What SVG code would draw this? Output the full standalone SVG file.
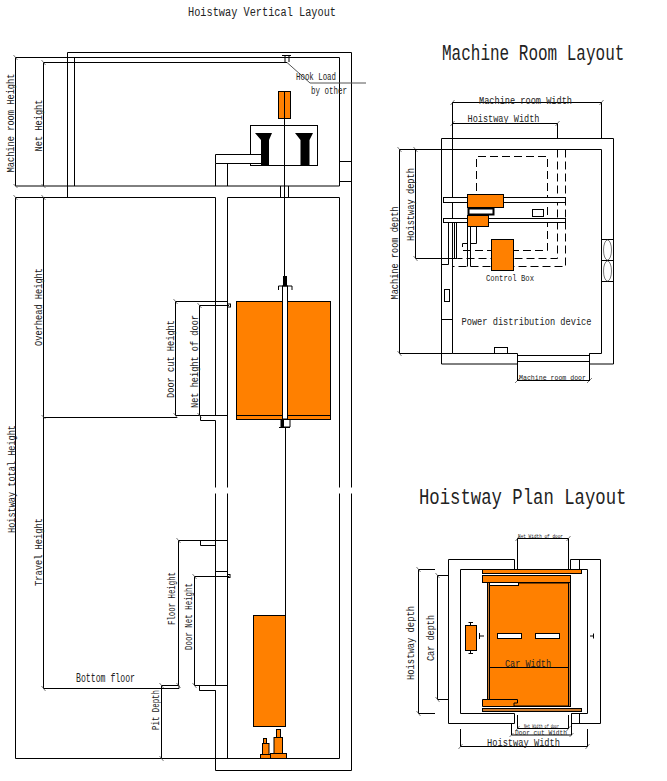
<svg xmlns="http://www.w3.org/2000/svg" width="667" height="781" viewBox="0 0 667 781">
<style>
text{font-family:"Liberation Mono","DejaVu Sans Mono",monospace;fill:#222;font-size:11px}
.l{fill:none;stroke:#000;stroke-width:1}
.d{fill:none;stroke:#000;stroke-width:1;stroke-dasharray:8 4}
.o{fill:#ff8000;stroke:#000;stroke-width:1}
.w{fill:#fff;stroke:#000;stroke-width:1}
.k{fill:#000}
.t{fill:none;stroke:#444;stroke-width:.7}
</style>
<rect width="667" height="781" fill="#fff"/>
<g id="vertical-layout">
<g id="shaft-walls">
<path class="l" d="M67.5 197.5V52.5H351.5V487.5M351.5 493.5V770.5H215.5V690.5H199.5V685.5M74.5 57.5V186M15.5 57.5H339.5V186H15.5M339.5 161.5H351.5M339.5 181.500H351.5M15.5 197.5H215.5V415.5M227.5 197.5H339.5V487.5M339.5 493.5V758.5H15.5M227.5 197.5V487.5M227.5 493.5V758.5M215.5 420.5V487.5M215.5 493.5V685.5M215.5 571.5H227.5M280.5 186V197.5M288.5 186V197.5"/>
<path class="l" d="M200.5 415.5V420.5H215.5M175.5 415.5H227.5M43.5 417.5H177M200.5 540.5V545.5H215.5M178.5 540.5H227.5M194.5 685.5H227.5M161.5 685.5H179M43.5 688.5H179V685.5M199.5 690.5H215.5"/>
</g>
<g id="machine">
<rect class="o" x="278.5" y="91.5" width="12" height="27"/>
<rect class="w" x="250.5" y="125.5" width="67" height="40"/>
<path class="k" d="M255 133H272L269 140V165H261V140Z"/>
<path class="k" d="M295 133H313L309.500 140V165H300.500V140Z"/>
<path class="w" d="M261 154.500H215.500V163.500H261"/>
<path class="l" d="M215.500 163.500V186M227.500 163.500V186"/>
<path class="l" d="M284.500 91.500V286M285.500 427V615"/>
<path class="l" d="M282 55.500H291M285 55.500V62.500H287M289 55.500V62"/>
<path class="l" d="M43.500 62.500H287"/>
<path d="M287 62.500L310 83H366" fill="none" stroke="#555" stroke-width="1"/>
</g>
<g id="car">
<rect class="o" x="236.500" y="301.500" width="94" height="118"/>
<path class="l" d="M236.500 415.500H330.500"/>
<rect class="w" x="282.500" y="286" width="5" height="133"/>
<rect class="k" x="283" y="276" width="4" height="10"/>
<path class="l" d="M278.500 290V286H292V290"/>
<path class="w" d="M281 419.500H290V427H281Z"/>
<rect class="k" x="281" y="419.500" width="3" height="7.500"/>
<path class="l" d="M279 427.500H290"/>
<rect class="w" x="227.500" y="304" width="3" height="3"/>
<rect class="w" x="227.500" y="574.500" width="2.500" height="3"/>
</g>
<g id="counterweight">
<rect class="o" x="253.500" y="615.500" width="32" height="111"/>
<rect class="o" x="263.500" y="738.500" width="3" height="5"/>
<rect class="o" x="262.500" y="743.500" width="6.500" height="11"/>
<rect class="o" x="260.500" y="754.500" width="10" height="4"/>
<rect class="o" x="276.500" y="729.500" width="4" height="8"/>
<rect class="o" x="274" y="737.500" width="8.500" height="16"/>
<rect class="o" x="270.500" y="753.500" width="16" height="5"/>
</g>
</g>
<g id="connectors">
<path class="l" d="M15.500 57.500V186M43.500 62.500V186M15.500 197.500V758.500M43.500 197.500V688.500M175.500 301.500V415.500M175.500 301.500H227.500M199.500 305.500V415.500M199.500 305.500H229M178.500 540.500V685.500M194.500 576.500V685.500M194.500 576.500H229M161.500 685.500V758.500"/>
<path class="t" d="M13.500 55L17.500 60M13.500 184L17.500 188M13.500 195L17.500 200M41.500 60L45.500 65M41.500 184L45.500 188M41.500 195L45.500 200M41.500 415L45.500 419M41.500 686L45.500 691M173.500 299L177.500 304M173.500 413L177.500 418M197.500 303L201.500 308M197.500 413L201.500 418M176.500 538L180.500 543M176.500 683L180.500 688M192.500 574L196.500 579M192.500 683L196.500 688M159.500 683L163.500 688M159.500 756L163.500 761"/>
<path class="l" d="M399.500 149.500V353.500H452.500M415.500 149.500V258.500H457.500M452.500 102.500H601.500M452.500 123.500H557.500M517.500 380.500H589.500M418.500 569.500V713.500M418.500 569.500H435M418.500 713.500H435M437.500 575.500V699.500M437.500 575.500H448.500M437.500 699.500H448.500M517.500 538.500H568.500M517.500 728.500H568.500M511.500 735H571.500M460.500 746.500H587.500M489 667.500H569"/>
<path class="t" d="M397.500 147L401.500 152M413.500 147L417.500 152M413.500 256L417.500 261M397.500 351L401.500 356M450.500 105L454.500 100M599.500 105L603.500 100M450.500 126L454.500 121M555.500 126L559.500 121M515 383L520 378M587 383L592 378M416.500 567L420.500 572M416.500 711L420.500 716M435.500 573L439.500 578M435.500 697L439.500 702M515.500 541L519.500 536M566.500 541L570.500 536M515.500 731L519.500 726M566.500 731L570.500 726M509.500 737L513.500 733M569.500 737L573.500 733M458.500 749L462.500 744M585.500 749L589.500 744"/>
</g>
<g id="machine-room-plan">
<path class="l" d="M441.500 364V138.500H613.500V364H589.500V353.500H601.500V149.500H399.500M452.500 149.500V353.500M452.500 353.500H517.500V381M441.500 364H517.500M517.500 355.500H589.500M517.500 361.500H589.500M589.500 353.500V381M452.500 102.500V149.500M601.500 102.500V138.500M557.500 123.500V138.500M441.500 319.500H452.500M441.500 264.500H448.500V222.500M601.500 239.500H613.500M601.500 260.500H613.500M601.500 281.500H613.500"/>
<ellipse class="t" cx="607.500" cy="250" rx="4" ry="10"/>
<ellipse class="t" cx="607.500" cy="271" rx="4" ry="10"/>
<rect class="w" x="444.500" y="289.500" width="5" height="12"/>
<rect class="w" x="494.500" y="347.500" width="13" height="6"/>
<path class="d" d="M476.500 239V156.500H547.500V250.500H462.500V243.500H476.500"/>
<path class="d" d="M557.500 149.500V258.500H457.500"/>
<path class="d" d="M565.500 149.500V266.500H452.500"/>
<rect class="w" x="443.500" y="197.500" width="122" height="5"/>
<rect class="w" x="443.500" y="218.500" width="122" height="4"/>
<rect class="o" x="467.500" y="194.500" width="36" height="13"/>
<rect x="468.500" y="208.500" width="25" height="6" fill="#fff" stroke="#000" stroke-width="2"/>
<rect class="o" x="467.500" y="215.500" width="21" height="11"/>
<rect class="w" x="532.500" y="209.500" width="11" height="7"/>
<path class="l" d="M454.500 222.500V258.500M456.500 222.500V258.500M467.500 226.500V266.500M470.500 226.500V266.500M476.500 226.500V243.500"/>
<rect class="o" x="491.500" y="239.500" width="22" height="31"/>
</g>
<g id="hoistway-plan">
<path class="l" d="M448.500 723.500V559.500H514.500V569.500H460.500V713.500H514.500V723.500H448.500M570.500 569.500V559.500H600.500V723.500H571.500V713.500H587.500V569.500H570.500M579.500 559.500V569.500M579.500 713.500V723.500M517.500 538.500V569.500M568.500 538.500V569.500M517.500 715V728.500M568.500 715V728.500M511.500 724V735M571.500 713.500V735M460.500 729V746.500M587.500 729V746.500"/>
<rect class="o" x="482.500" y="569.500" width="99" height="4"/>
<rect x="487.500" y="582" width="83" height="124.500" fill="#c87a30" stroke="#000"/>
<rect x="489.500" y="583" width="79" height="123" fill="#ff8000" stroke="#000"/>
<rect class="o" x="482.500" y="575.500" width="88" height="7"/>
<rect class="w" x="489.500" y="582.500" width="29" height="3"/>
<path class="l" d="M489.500 667.500H569"/>
<path class="o" d="M482.500 699.500H517.500V703H514V706.500H482.500Z"/>
<rect x="482.500" y="708.500" width="99" height="3" fill="#c87a30" stroke="#000"/>
<rect class="w" x="497.500" y="633.500" width="24" height="5"/>
<rect class="w" x="535.500" y="633.500" width="24" height="5"/>
<rect class="o" x="465.500" y="625.500" width="11" height="25"/>
<path class="l" d="M468.500 622.500H473M470.500 622.500V625.500M468.500 653.500H473M470.500 650.500V653.500M479.500 633V639M479.500 636H484M593.500 633.500V638.500M590 636H593.500"/>
</g>
<g id="labels">
<text x="188" y="16" textLength="148" lengthAdjust="spacingAndGlyphs" style="font-size:12px">Hoistway Vertical Layout</text>
<text transform="translate(442 60) scale(1 1.35)" style="font-size:16px">Machine Room Layout</text>
<text transform="translate(419 504) scale(1 1.3)" style="font-size:17.300px">Hoistway Plan Layout</text>
<text x="296" y="80" textLength="40" lengthAdjust="spacingAndGlyphs">Hook Load</text>
<text x="311" y="94" textLength="36" lengthAdjust="spacingAndGlyphs">by other</text>
<text x="76" y="682" textLength="59" lengthAdjust="spacingAndGlyphs" style="font-size:12px">Bottom floor</text>
<text transform="translate(14 172.500) rotate(-90)" textLength="99" lengthAdjust="spacingAndGlyphs">Machine room Height</text>
<text transform="translate(42 151.500) rotate(-90)" textLength="52" lengthAdjust="spacingAndGlyphs">Net Height</text>
<text transform="translate(41.500 346) rotate(-90)" textLength="78" lengthAdjust="spacingAndGlyphs">Overhead Height</text>
<text transform="translate(174 398) rotate(-90)" textLength="78" lengthAdjust="spacingAndGlyphs">Door cut Height</text>
<text transform="translate(198 408) rotate(-90)" textLength="93" lengthAdjust="spacingAndGlyphs">Net height of door</text>
<text transform="translate(15 533) rotate(-90)" textLength="108" lengthAdjust="spacingAndGlyphs">Hoistway total Height</text>
<text transform="translate(42 586) rotate(-90)" textLength="68" lengthAdjust="spacingAndGlyphs">Travel Height</text>
<text transform="translate(175 625) rotate(-90)" textLength="53" lengthAdjust="spacingAndGlyphs">Floor Height</text>
<text transform="translate(192 650) rotate(-90)" textLength="67" lengthAdjust="spacingAndGlyphs">Door Net Height</text>
<text transform="translate(158.500 730) rotate(-90)" textLength="40" lengthAdjust="spacingAndGlyphs">Pit Depth</text>
<text x="479" y="104" textLength="93" lengthAdjust="spacingAndGlyphs">Machine room Width</text>
<text x="467.500" y="122" textLength="72" lengthAdjust="spacingAndGlyphs">Hoistway Width</text>
<text transform="translate(398 299.500) rotate(-90)" textLength="93" lengthAdjust="spacingAndGlyphs">Machine room depth</text>
<text transform="translate(414 241) rotate(-90)" textLength="73" lengthAdjust="spacingAndGlyphs">Hoistway depth</text>
<text x="486" y="280.500" textLength="48" lengthAdjust="spacingAndGlyphs" style="font-size:9px">Control Box</text>
<text x="461.500" y="325" textLength="130" lengthAdjust="spacingAndGlyphs">Power distribution device</text>
<text x="519" y="379.500" textLength="67" lengthAdjust="spacingAndGlyphs" style="font-size:6.500px">Machine room door</text>
<text x="518" y="538" textLength="45" lengthAdjust="spacingAndGlyphs" style="font-size:5.500px">Net Width of door</text>
<text x="505" y="667" textLength="46" lengthAdjust="spacingAndGlyphs">Car Width</text>
<text x="524" y="728" textLength="35" lengthAdjust="spacingAndGlyphs" style="font-size:4.500px">Net Width of door</text>
<text x="515" y="734.500" textLength="52" lengthAdjust="spacingAndGlyphs" style="font-size:8px">Door cut Width</text>
<text x="487" y="745.500" textLength="73" lengthAdjust="spacingAndGlyphs">Hoistway Width</text>
<text transform="translate(414 680) rotate(-90)" textLength="74" lengthAdjust="spacingAndGlyphs">Hoistway depth</text>
<text transform="translate(434 661) rotate(-90)" textLength="46" lengthAdjust="spacingAndGlyphs">Car depth</text>
</g>
</svg>
